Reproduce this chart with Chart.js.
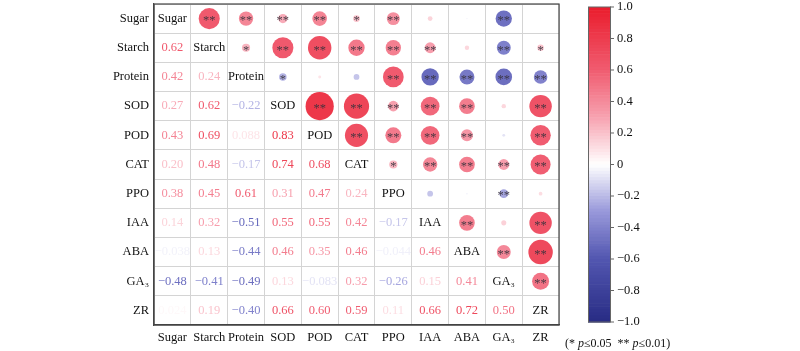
<!DOCTYPE html>
<html>
<head>
<meta charset="utf-8">
<script src="https://cdn.jsdelivr.net/npm/chart.js@4.4.1/dist/chart.umd.min.js"></script>
<style>
  html, body { margin: 0; padding: 0; background: #fff; }
  #wrap { width: 800px; height: 351px; }
</style>
</head>
<body>
<div id="wrap"><canvas id="corr"></canvas></div>
<script>
const variables = ["Sugar", "Starch", "Protein", "SOD", "POD", "CAT", "PPO", "IAA", "ABA", "GA₃", "ZR"];

// lower triangle, one row per variable, columns in the order of `variables`
const rStarch = [0.62];
const rProtein = [0.42, 0.24];
const rSOD = [0.27, 0.62, -0.22];
const rPOD = [0.43, 0.69, 0.088, 0.83];
const rCAT = [0.20, 0.48, -0.17, 0.74, 0.68];
const rPPO = [0.38, 0.45, 0.61, 0.31, 0.47, 0.24];
const rIAA = [0.14, 0.32, -0.51, 0.55, 0.55, 0.42, -0.17];
const rABA = [-0.038, 0.13, -0.44, 0.46, 0.35, 0.46, -0.044, 0.46];
const rGA3 = [-0.48, -0.41, -0.49, 0.13, -0.083, 0.32, -0.26, 0.15, 0.41];
const rZR = [0.024, 0.19, -0.40, 0.66, 0.60, 0.59, 0.11, 0.66, 0.72, 0.50];

// number of stars shown in the upper triangle (1: p<=0.05, 2: p<=0.01)
const sigStarch = [2];
const sigProtein = [2, 1];
const sigSOD = [2, 2, 1];
const sigPOD = [2, 2, 0, 2];
const sigCAT = [1, 2, 0, 2, 2];
const sigPPO = [2, 2, 2, 2, 2, 1];
const sigIAA = [0, 2, 2, 2, 2, 2, 0];
const sigABA = [0, 0, 2, 2, 2, 2, 0, 2];
const sigGA3 = [2, 2, 2, 0, 0, 2, 2, 0, 2];
const sigZR = [0, 1, 2, 2, 2, 2, 0, 2, 2, 2];

const colorbarTicks = [1.0, 0.8, 0.6, 0.4, 0.2, 0, -0.2, -0.4, -0.6, -0.8, -1.0];

const lowerR = [[], rStarch, rProtein, rSOD, rPOD, rCAT, rPPO, rIAA, rABA, rGA3, rZR];
const lowerSig = [[], sigStarch, sigProtein, sigSOD, sigPOD, sigCAT, sigPPO, sigIAA, sigABA, sigGA3, sigZR];

function corr(i, j) {
    if (i === j) return 1;
    return i > j ? lowerR[i][j] : lowerR[j][i];
}
function stars(i, j) {
    return i > j ? lowerSig[i][j] : lowerSig[j][i];
}

const stops = [
    [-1, [40, 44, 132]],
    [-0.6, [82, 86, 176]],
    [-0.3, [152, 152, 218]],
    [0, [255, 255, 255]],
    [0.3, [247, 162, 176]],
    [0.6, [240, 92, 112]],
    [1, [234, 28, 44]],
];
function colorFor(v) {
    for (let k = 0; k < stops.length - 1; k++) {
        const [a, ca] = stops[k];
        const [b, cb] = stops[k + 1];
        if (v >= a && v <= b) {
            const t = (v - a) / (b - a);
            const c = ca.map((x, m) => Math.round(x + (cb[m] - x) * t));
            return `rgb(${c[0]},${c[1]},${c[2]})`;
        }
    }
    return v < 0 ? "rgb(40,44,132)" : "rgb(234,28,44)";
}

function fmt(v) {
    return v.toPrecision(2).replace("-", "\u2212");
}

const n = variables.length;
const points = [];
for (let i = 0; i < n; i++) {
    for (let j = i + 1; j < n; j++) {
        const v = corr(i, j);
        points.push({ x: variables[j], y: variables[i], r: Math.abs(v) * 17, v: v });
    }
}

const serif = "'Liberation Serif', 'Times New Roman', serif";

const cellText = {
    id: "cellText",
    afterDatasetsDraw(chart) {
        const { ctx, scales } = chart;
        ctx.save();
        ctx.textAlign = "center";
        ctx.textBaseline = "middle";
        for (let i = 0; i < n; i++) {
            for (let j = 0; j < n; j++) {
                const px = scales.x.getPixelForValue(j);
                const py = scales.y.getPixelForValue(i);
                if (i === j) {
                    ctx.font = `12.5px ${serif}`;
                    ctx.fillStyle = "#111";
                    ctx.fillText(variables[i], px, py);
                } else if (i > j) {
                    ctx.font = `12.5px ${serif}`;
                    ctx.fillStyle = colorFor(corr(i, j));
                    ctx.fillText(fmt(corr(i, j)), px, py);
                } else {
                    const s = stars(i, j);
                    if (s) {
                        ctx.font = `12.5px ${serif}`;
                        ctx.fillStyle = "rgba(55,50,60,0.9)";
                        ctx.fillText("*".repeat(s), px, py + 2.5);
                    }
                }
            }
        }
        const a = chart.chartArea;
        ctx.strokeStyle = "#444";
        ctx.lineWidth = 1.2;
        ctx.strokeRect(a.left, a.top, a.right - a.left, a.bottom - a.top);
        ctx.restore();
    }
};

const colorbar = {
    id: "colorbar",
    afterDraw(chart) {
        const { ctx, chartArea } = chart;
        const cb = chart.scales.cb;
        const left = chartArea.right + 29;
        const w = 22;
        ctx.save();
        const steps = 100;
        for (let k = 0; k < steps; k++) {
            const v0 = 1 - (2 * k) / steps;
            const v1 = 1 - (2 * (k + 1)) / steps;
            const y0 = cb.getPixelForValue(v0);
            const y1 = cb.getPixelForValue(v1);
            ctx.fillStyle = colorFor((v0 + v1) / 2);
            ctx.fillRect(left, y0, w, y1 - y0 + 0.6);
        }
        const top = cb.getPixelForValue(1);
        const bottom = cb.getPixelForValue(-1);
        ctx.strokeStyle = "#666";
        ctx.lineWidth = 1;
        ctx.strokeRect(left + 0.5, top, w, bottom - top);
        ctx.font = `12.5px ${serif}`;
        ctx.fillStyle = "#111";
        ctx.textAlign = "left";
        ctx.textBaseline = "middle";
        colorbarTicks.forEach((t) => {
            const y = cb.getPixelForValue(t);
            ctx.beginPath();
            ctx.moveTo(left + w, y);
            ctx.lineTo(left + w + 4, y);
            ctx.stroke();
            const label = t === 0 ? "0" : t.toFixed(1).replace("-", "\u2212");
            ctx.fillText(label, left + w + 7, y);
        });

        // significance note
        let x = chartArea.right + 6;
        const y = chartArea.bottom + 19;
        const parts = [["(* ", false], ["p", true], ["\u22640.05  ** ", false], ["p", true], ["\u22640.01)", false]];
        parts.forEach(([txt, it]) => {
            ctx.font = `${it ? "italic " : ""}12px ${serif}`;
            ctx.fillText(txt, x, y);
            x += ctx.measureText(txt).width;
        });
        ctx.restore();
    }
};

const axisTicks = { font: { family: serif, size: 12.5 }, color: "#111", padding: 5, autoSkip: false, maxRotation: 0 };

new Chart(document.getElementById("corr").getContext("2d"), {
    type: "bubble",
    data: {
        datasets: [{
            data: points,
            xAxisID: "x",
            yAxisID: "y",
            backgroundColor: (c) => (c.raw ? colorFor(c.raw.v) : "#fff"),
            borderWidth: 0,
            hoverRadius: 0,
        }],
    },
    options: {
        responsive: true,
        maintainAspectRatio: false,
        animation: false,
        events: [],
        layout: { autoPadding: false, padding: { left: 0, top: 4, right: 241, bottom: 0 } },
        plugins: { legend: { display: false }, tooltip: { enabled: false } },
        scales: {
            x: {
                type: "category",
                labels: variables,
                offset: true,
                grid: { offset: true, color: "#d4d4d4", drawTicks: false },
                border: { color: "#444", width: 1.2 },
                ticks: axisTicks,
                afterFit: (s) => { s.height = 26; s.paddingLeft = 0; s.paddingRight = 0; },
            },
            y: {
                type: "category",
                labels: variables,
                offset: true,
                grid: { offset: true, color: "#d4d4d4", drawTicks: false },
                border: { color: "#444", width: 1.2 },
                ticks: axisTicks,
                afterFit: (s) => { s.width = 154; s.paddingTop = 0; s.paddingBottom = 0; },
            },
            cb: {
                type: "linear",
                axis: "y",
                position: "right",
                display: false,
                min: -1.019,
                max: 1.019,
            },
        },
    },
    plugins: [cellText, colorbar],
});
</script>
</body>
</html>
